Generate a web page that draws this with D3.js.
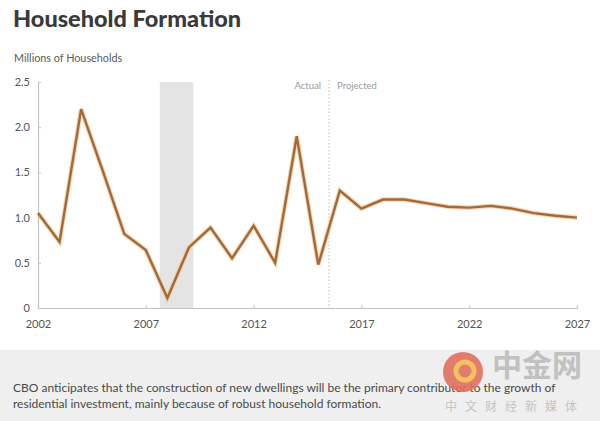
<!DOCTYPE html>
<html><head><meta charset="utf-8">
<script src="https://cdn.jsdelivr.net/npm/d3@7"></script>
<style>body{margin:0;background:#fff;}svg{display:block;}</style>
</head><body>
<script>
const years = [2002,2003,2004,2005,2006,2007,2008,2009,2010,2011,2012,2013,2014,2015,2016,2017,2018,2019,2020,2021,2022,2023,2024,2025,2026,2027];
const households = [1.05,0.73,2.2,1.52,0.82,0.64,0.11,0.67,0.89,0.55,0.91,0.50,1.90,0.48,1.30,1.10,1.20,1.20,1.16,1.12,1.11,1.13,1.10,1.05,1.02,1.00];
const yTicks = [0,0.5,1.0,1.5,2.0,2.5];
const yTickLabels = ["0","0.5","1.0","1.5","2.0","2.5"];
const xTicks = [2002,2007,2012,2017,2022,2027];
const recession = [2007.65,2009.2];
const actualProjectedSplit = 2015.5;
const title = "Household Formation";
const yTitle = "Millions of Households";
const note = ["CBO anticipates that the construction of new dwellings will be the primary contributor to the growth of",
              "residential investment, mainly because of robust household formation."];

const W=600,H=421;
const svg=d3.select("body").append("svg").attr("width",W).attr("height",H);
const font="Lato, 'Open Sans', sans-serif";

const x=d3.scaleLinear().domain([2002,2027]).range([38,577]);
const y=d3.scaleLinear().domain([0,2.5]).range([308,82]);

svg.append("text").attr("x",13).attr("y",27).text(title)
  .attr("font-family",font).attr("font-weight",900).attr("font-size",23.5).attr("fill","#3a3a3a");
svg.append("text").attr("x",14).attr("y",62).text(yTitle)
  .attr("font-family",font).attr("font-size",10.8).attr("fill","#5a5a5a");

// recession shading
svg.append("rect").attr("x",x(recession[0])).attr("width",x(recession[1])-x(recession[0]))
  .attr("y",y(2.5)).attr("height",y(0)-y(2.5)).attr("fill","#e4e4e4");

// axes
const yAxis=d3.axisLeft(y).tickValues(yTicks).tickFormat((d,i)=>yTickLabels[i]).tickSize(-3).tickPadding(8);
const gy=svg.append("g").attr("transform",`translate(${x(2002)},0)`).call(yAxis);
const xAxis=d3.axisBottom(x).tickValues(xTicks).tickFormat(d3.format("d")).tickSize(-3).tickPadding(12);
const gx=svg.append("g").attr("transform",`translate(0,${y(0)})`).call(xAxis);
[gx,gy].forEach(g=>{
  g.select(".domain").attr("stroke","#c4c4c4").attr("stroke-width",1.2);
  g.selectAll(".tick line").attr("stroke","#c4c4c4");
  g.selectAll(".tick text").attr("font-family",font).attr("font-size",11).attr("fill","#555");
});

// actual/projected divider
svg.append("line").attr("x1",x(actualProjectedSplit)).attr("x2",x(actualProjectedSplit))
  .attr("y1",80).attr("y2",y(0)).attr("stroke","#bbb").attr("stroke-dasharray","1.5,2").attr("stroke-width",1);
svg.append("text").attr("x",x(actualProjectedSplit)-8).attr("y",89).attr("text-anchor","end").text("Actual")
  .attr("font-family",font).attr("font-size",9.5).attr("fill","#9a9a9a");
svg.append("text").attr("x",x(actualProjectedSplit)+8).attr("y",89).text("Projected")
  .attr("font-family",font).attr("font-size",9.5).attr("fill","#9a9a9a");

// line
const line=d3.line().x((d,i)=>x(years[i])).y(d=>y(d));
svg.append("path").datum(households).attr("d",line).attr("fill","none")
  .attr("stroke","#f3c48e").attr("stroke-width",4.5).attr("stroke-linejoin","miter").attr("opacity",0.7);
svg.append("path").datum(households).attr("d",line).attr("fill","none")
  .attr("stroke","#a5683a").attr("stroke-width",2.4).attr("stroke-linejoin","miter");

// note box
svg.append("rect").attr("x",0).attr("y",350).attr("width",W).attr("height",H-350).attr("fill","#efefef");
note.forEach((t,i)=>svg.append("text").attr("x",13).attr("y",392+i*16).text(t)
  .attr("font-family",font).attr("font-size",12).attr("fill","#4a4a4a"));

// watermark
const wm=svg.append("g");
wm.append("circle").attr("cx",463).attr("cy",372).attr("r",20).attr("fill","#e0705e").attr("opacity",0.9);
wm.append("circle").attr("cx",465).attr("cy",371).attr("r",9).attr("fill","none").attr("stroke","#f3c062").attr("stroke-width",5);
wm.append("text").attr("x",492).attr("y",376).text("中金网")
  .attr("font-family","'Noto Sans CJK SC'").attr("font-size",30).attr("font-weight",700).attr("fill","#b9b9b9").attr("opacity",0.85);
wm.append("text").attr("x",445).attr("y",411).text("中文财经新媒体")
  .attr("font-family","'Noto Sans CJK SC'").attr("font-size",12).attr("letter-spacing",8).attr("fill","#c4c4c4");
</script>
</body></html>
